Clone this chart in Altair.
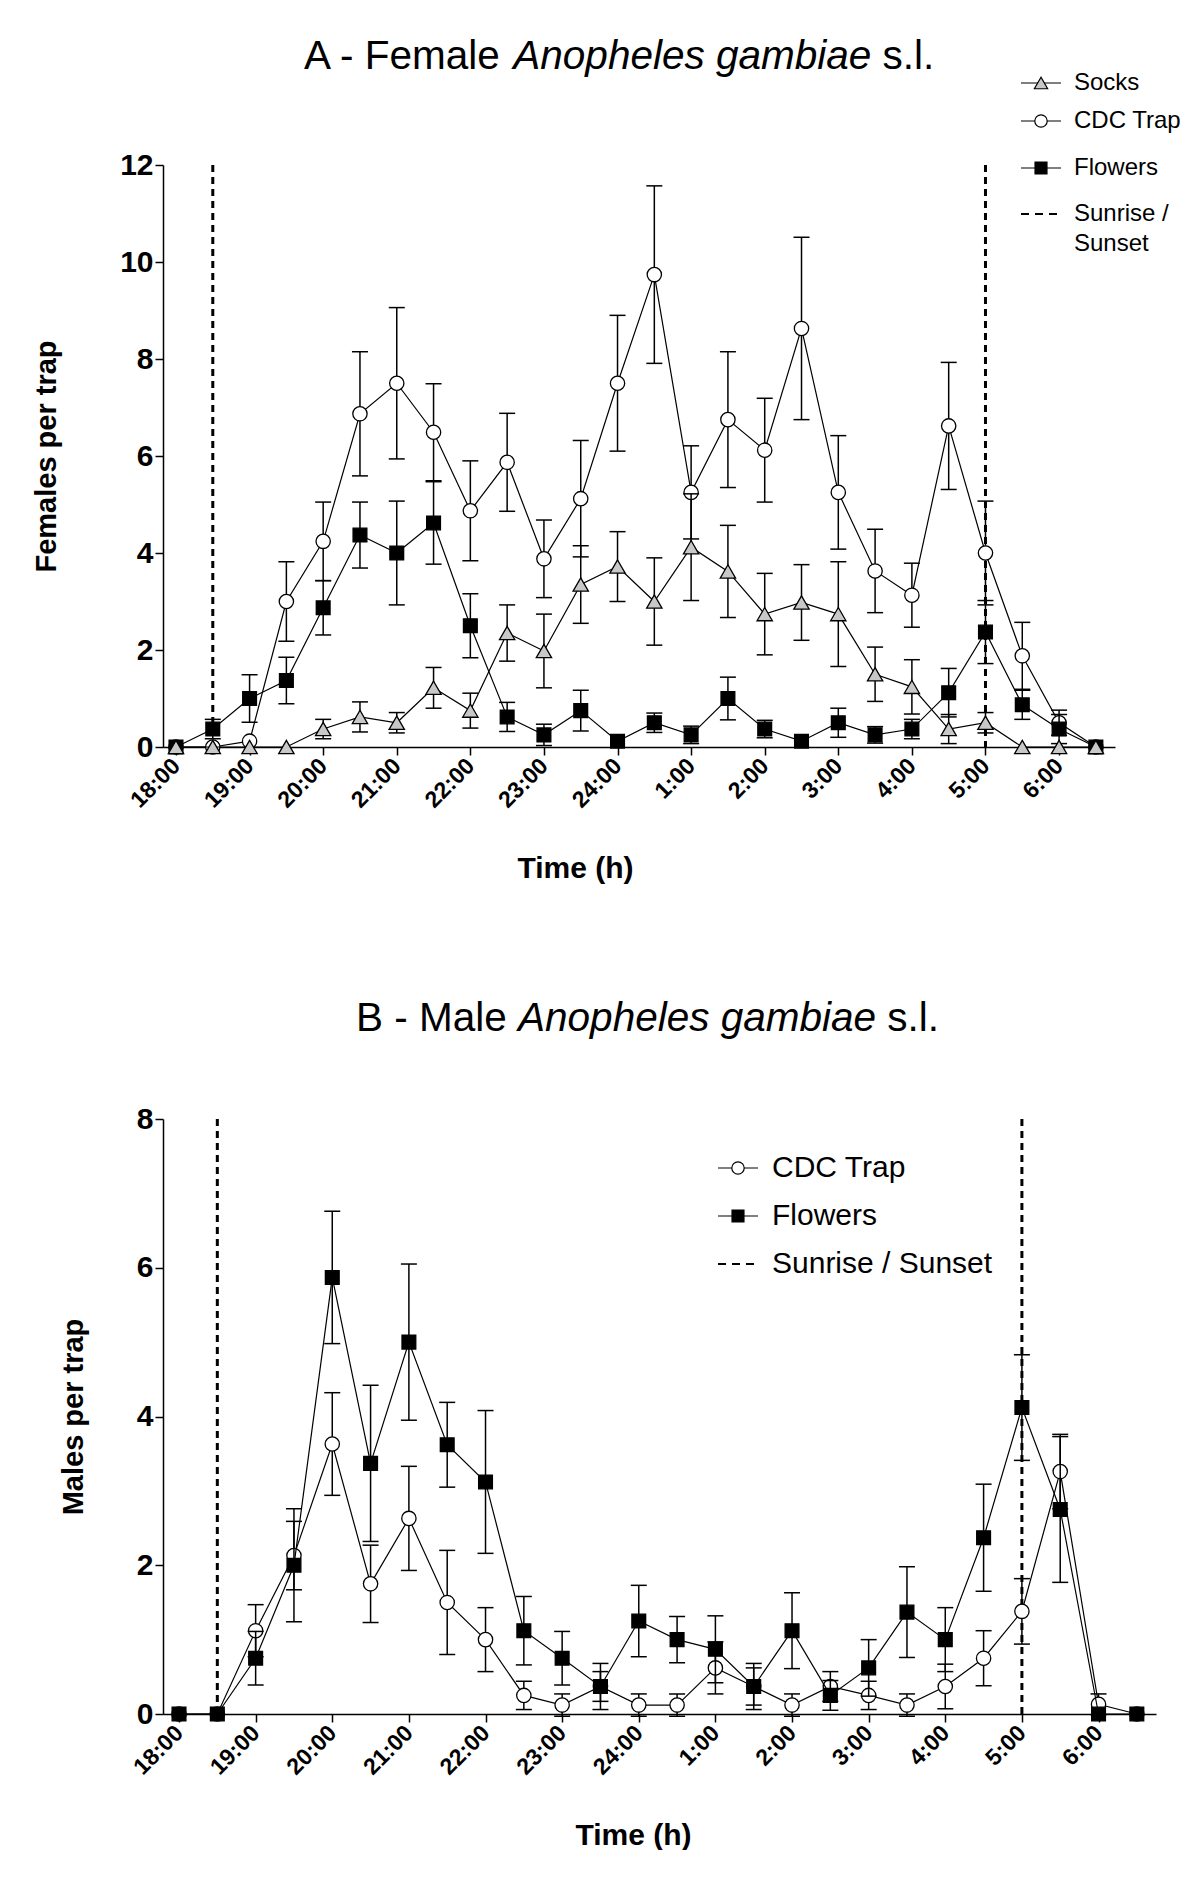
import json
import altair as alt
import pandas as pd

# ---------------- data ----------------
times = ["18:00", "18:30", "19:00", "19:30", "20:00", "20:30", "21:00", "21:30",
         "22:00", "22:30", "23:00", "23:30", "24:00", "0:30", "1:00", "1:30",
         "2:00", "2:30", "3:00", "3:30", "4:00", "4:30", "5:00", "5:30", "6:00", "6:30"]
hour_labels = ["18:00", "19:00", "20:00", "21:00", "22:00", "23:00", "24:00",
               "1:00", "2:00", "3:00", "4:00", "5:00", "6:00"]
sun_times = ["18:30", "5:00"]

# Panel A - females per trap (mean and s.e.)
fem_socks = [0, 0, 0, 0, 0.37, 0.62, 0.5, 1.22, 0.75, 2.35, 1.98, 3.35, 3.72,
             3.0, 4.12, 3.62, 2.74, 2.98, 2.74, 1.5, 1.24, 0.37, 0.5, 0, 0, 0]
fem_socks_se = [0, 0, 0, 0, 0.2, 0.31, 0.21, 0.42, 0.36, 0.58, 0.76, 0.8, 0.72,
                0.9, 1.1, 0.95, 0.84, 0.78, 1.08, 0.56, 0.56, 0.3, 0.21, 0, 0, 0]
fem_cdc = [0, 0, 0.12, 3.0, 4.24, 6.87, 7.5, 6.49, 4.87, 5.87, 3.88, 5.12, 7.5,
           9.74, 5.25, 6.75, 6.12, 8.63, 5.25, 3.63, 3.13, 6.62, 4.0, 1.88, 0.5, 0]
fem_cdc_se = [0, 0, 0, 0.82, 0.81, 1.28, 1.56, 1.0, 1.03, 1.01, 0.8, 1.2, 1.4,
              1.83, 0.96, 1.4, 1.07, 1.88, 1.17, 0.86, 0.66, 1.31, 1.07, 0.69, 0.26, 0]
fem_flowers = [0, 0.37, 1.0, 1.37, 2.87, 4.37, 4.0, 4.62, 2.5, 0.62, 0.25, 0.75, 0.12,
               0.5, 0.25, 1.0, 0.37, 0.12, 0.5, 0.25, 0.37, 1.12, 2.37, 0.87, 0.37, 0]
fem_flowers_se = [0, 0.2, 0.49, 0.48, 0.56, 0.68, 1.07, 0.85, 0.66, 0.3, 0.22, 0.42, 0,
                  0.2, 0.18, 0.44, 0.18, 0, 0.3, 0.17, 0.2, 0.5, 0.65, 0.3, 0.3, 0]

# Panel B - males per trap (mean and s.e.)
male_cdc = [0, 0, 1.12, 2.13, 3.63, 1.75, 2.63, 1.5, 1.0, 0.25, 0.12, 0.37, 0.12,
            0.12, 0.62, 0.37, 0.12, 0.37, 0.25, 0.12, 0.37, 0.75, 1.38, 3.26, 0.13, 0]
male_cdc_se = [0, 0, 0.35, 0.46, 0.69, 0.52, 0.7, 0.7, 0.43, 0.19, 0.15, 0.2, 0.15,
               0.15, 0.35, 0.25, 0.15, 0.2, 0.19, 0.15, 0.3, 0.37, 0.44, 0.5, 0.14, 0]
male_flowers = [0, 0, 0.75, 2.0, 5.87, 3.37, 5.0, 3.62, 3.12, 1.12, 0.75, 0.37, 1.25,
                1.0, 0.87, 0.37, 1.12, 0.25, 0.62, 1.37, 1.0, 2.37, 4.12, 2.75, 0, 0]
male_flowers_se = [0, 0, 0.36, 0.76, 0.89, 1.05, 1.05, 0.57, 0.96, 0.46, 0.36, 0.31, 0.48,
                   0.31, 0.45, 0.31, 0.51, 0.2, 0.38, 0.61, 0.43, 0.72, 0.71, 0.98, 0, 0]

# ---------------- helpers ----------------
FONT = "Liberation Sans"
ARIAL_W = {' ': 278, '-': 333, '.': 278, '/': 278, 'A': 667, 'B': 667, 'F': 611, 'M': 833,
           'a': 556, 'b': 556, 'e': 556, 'g': 556, 'h': 556, 'i': 222, 'l': 222, 'm': 833,
           'n': 556, 'o': 556, 'p': 556, 's': 500}


def text_w(s, size):
    return sum(ARIAL_W.get(c, 556) for c in s) / 1000.0 * size


def series_df(vals, ses, name):
    rows = []
    for t, v, e in zip(times, vals, ses):
        rows.append(dict(idx=times.index(t), time=t, series=name, value=v, se=e,
                         lo=v - e, hi=v + e))
    return pd.DataFrame(rows)


STYLE = {
    "Socks": dict(shape="triangle-up", fill="#c8c8c8", size=235),
    "CDC Trap": dict(shape="circle", fill="white", size=205),
    "Flowers": dict(shape="square", fill="black", size=190),
}


def panel(series, ymax, ytitle, width, height, xdom, title_prefix, title_x, title_y,
          ytitle_x, xtitle_x, legend):
    xaxis = alt.Axis(values=list(range(0, 25, 2)),
                     labelExpr=json.dumps(hour_labels) + "[round(datum.value/2)]",
                     labelAngle=-45, labelAlign="right", labelBaseline="middle",
                     labelPadding=7, labelFont=FONT, labelFontWeight="bold", labelFontSize=23,
                     labelColor="black", labelOverlap=False, grid=False,
                     domainColor="black", domainWidth=1.5, tickColor="black", tickWidth=1.5,
                     tickSize=8, title="Time (h)", titleFont=FONT, titleFontSize=30,
                     titleFontWeight="bold", titleColor="black", titleX=xtitle_x, titleY=130,
                     titleAlign="center", titleBaseline="alphabetic")
    X = alt.X("idx:Q", scale=alt.Scale(domain=xdom, nice=False, zero=False), axis=xaxis)
    yscale = alt.Scale(domain=[0, ymax], nice=False)
    yaxis = alt.Axis(values=list(range(0, ymax + 1, 2)), labelFont=FONT, labelFontWeight="bold",
                     labelFontSize=30, labelColor="black", labelPadding=2, grid=False,
                     domainColor="black", domainWidth=1.5, tickColor="black", tickWidth=1.5,
                     tickSize=8, title=ytitle, titleFont=FONT, titleFontSize=29,
                     titleFontWeight="bold", titleColor="black", titleX=ytitle_x,
                     titleY=height / 2, titleAlign="center", titleBaseline="middle",
                     titleAngle=270)

    def Y(field):
        return alt.Y(field + ":Q", scale=yscale, axis=yaxis, title=ytitle)

    sun_df = pd.DataFrame({"idx": [times.index(t) for t in sun_times]})
    layers = [alt.Chart(sun_df).mark_rule(color="black", strokeWidth=3,
                                          strokeDash=[7, 5]).encode(x=X)]
    for name, vals, ses in series:
        df = series_df(vals, ses, name)
        dfe = df[df.se > 0]
        st = STYLE[name]
        layers.append(alt.Chart(dfe).mark_rule(color="black", strokeWidth=1.5)
                      .encode(x=X, y=Y("lo"), y2="hi:Q"))
        for f in ("lo", "hi"):
            layers.append(alt.Chart(dfe).mark_tick(orient="horizontal", size=16, thickness=1.5,
                                                   color="black", opacity=1)
                          .encode(x=X, y=Y(f)))
        layers.append(alt.Chart(df).mark_line(color="black", strokeWidth=1.2)
                      .encode(x=X, y=Y("value")))
        layers.append(alt.Chart(df).mark_point(shape=st["shape"], filled=True, fill=st["fill"],
                                               stroke="black", strokeWidth=1.3, size=st["size"],
                                               opacity=1)
                      .encode(x=X, y=Y("value")))

    # title with italic species name
    one = pd.DataFrame({"a": [0]})
    fs = 40.5
    seg1 = title_prefix
    seg2 = "Anopheles gambiae"
    seg3 = "s.l."
    x1 = title_x
    x2 = x1 + text_w(seg1 + " ", fs)
    x3 = x2 + text_w(seg2 + " ", fs)
    for s, xx, style in ((seg1, x1, "normal"), (seg2, x2, "italic"), (seg3, x3, "normal")):
        layers.append(alt.Chart(one).mark_text(text=s, font=FONT, fontSize=fs, fontStyle=style,
                                               align="left", baseline="alphabetic", color="black")
                      .encode(x=alt.value(xx), y=alt.value(title_y)))

    # legend
    lx0, lx1, tx, lfs, rows = legend
    for label, ly, kind in rows:
        if kind == "dash":
            layers.append(alt.Chart(one).mark_rule(color="black", strokeWidth=2,
                                                   strokeDash=[8, 6])
                          .encode(x=alt.value(lx0), x2=alt.value(lx1), y=alt.value(ly)))
        elif kind in STYLE:
            st = STYLE[kind]
            layers.append(alt.Chart(one).mark_rule(color="black", strokeWidth=1.2)
                          .encode(x=alt.value(lx0), x2=alt.value(lx1), y=alt.value(ly)))
            layers.append(alt.Chart(one).mark_point(shape=st["shape"], filled=True,
                                                    fill=st["fill"], stroke="black",
                                                    strokeWidth=1.2, size=st["size"] * 0.75,
                                                    opacity=1)
                          .encode(x=alt.value((lx0 + lx1) / 2), y=alt.value(ly)))
        layers.append(alt.Chart(one).mark_text(text=label, font=FONT, fontSize=lfs,
                                               align="left", baseline="middle", color="black")
                      .encode(x=alt.value(tx), y=alt.value(ly)))

    return alt.layer(*layers).properties(width=width, height=height)


chartA = panel(
    [("CDC Trap", fem_cdc, fem_cdc_se), ("Flowers", fem_flowers, fem_flowers_se),
     ("Socks", fem_socks, fem_socks_se)],
    12, "Females per trap", 952, 582, [-0.353, 25.52], "A - Female", 141, -96, -117, 412,
    (858, 898, 911, 24, [("Socks", -82, "Socks"), ("CDC Trap", -44, "CDC Trap"),
                         ("Flowers", 3, "Flowers"), ("Sunrise /", 49, "dash"),
                         ("Sunset", 79, "text")]))

chartB = panel(
    [("CDC Trap", male_cdc, male_cdc_se), ("Flowers", male_flowers, male_flowers_se)],
    8, "Males per trap", 993, 595, [-0.418, 25.50], "B - Male", 193, -88, -90, 470,
    (555, 595, 609, 30, [("CDC Trap", 49, "CDC Trap"), ("Flowers", 97, "Flowers"),
                         ("Sunrise / Sunset", 145, "dash")]))

chart = alt.vconcat(chartA, chartB, spacing=116).properties(
    padding={"left": 24, "top": 29, "right": 0, "bottom": 0}
).configure(background="white").configure_view(strokeWidth=0, stroke=None)

chart.save("out.html", embed_options={"renderer": "svg", "actions": False})
